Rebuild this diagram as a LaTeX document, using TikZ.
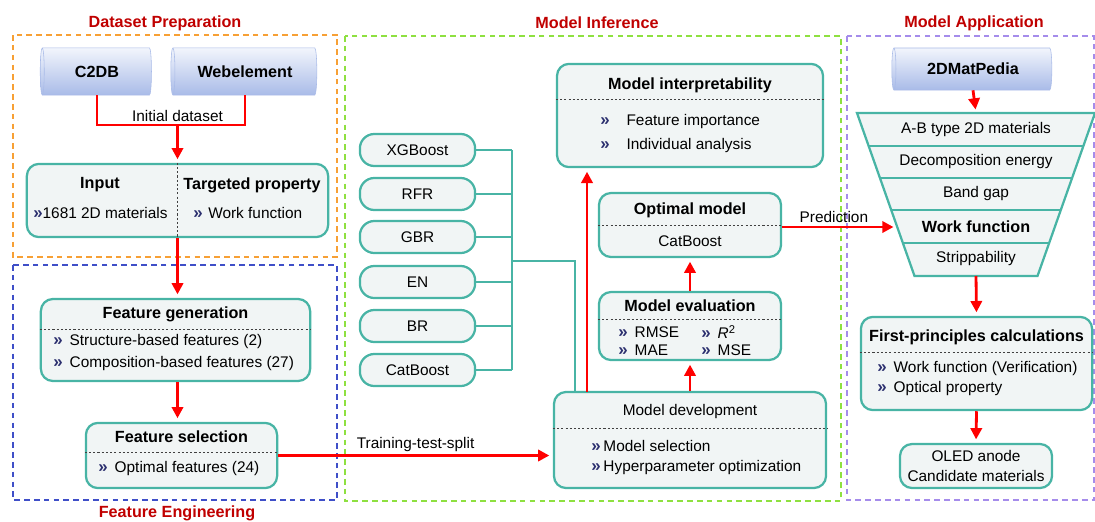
\documentclass[tikz,border=0pt,11pt]{standalone}
\usepackage{fontspec}
\setmainfont{Liberation Sans}
\usepackage{xcolor}
\usetikzlibrary{positioning}
\usetikzlibrary{arrows.meta}
\usetikzlibrary{shapes.geometric}
\usetikzlibrary{calc}

\definecolor{tealc}{HTML}{48B4A5}
\definecolor{boxfill}{HTML}{F1F5F5}
\definecolor{titred}{HTML}{C00000}
\definecolor{bulc}{HTML}{2B2F6E}
\definecolor{cyltop}{HTML}{F2F5FC}
\definecolor{cylbot}{HTML}{A9BBE8}
\definecolor{frmorange}{HTML}{F7A035}
\definecolor{frmblue}{HTML}{3F4FC8}
\definecolor{frmgreen}{HTML}{8EE040}
\definecolor{frmpurple}{HTML}{A58CEB}

\newcommand{\bul}{\textcolor{bulc}{\fontsize{12}{12}\selectfont\bfseries »}}

\begin{document}
\begin{tikzpicture}[
    x=0.025cm, y=-0.025cm,
    %% ── Node styles ─────────────────────────────────────────────
    dbase/.style ={cylinder, shape border rotate=180, shape aspect=0.35,
                   draw=cylbot, line width=0.4pt, top color=cyltop, bottom color=cylbot,
                   inner sep=0pt, font=\fontsize{11.5}{13}\selectfont\bfseries},
    box/.style   ={draw=tealc, line width=1.6pt, rounded corners=0.3cm,
                   fill=boxfill, inner sep=0pt},
    mbox/.style  ={draw=tealc, line width=1.6pt, rounded corners=0.36cm,
                   fill=boxfill, minimum width=2.88cm, minimum height=0.8cm},
    ttl/.style   ={inner sep=0pt, font=\fontsize{11.5}{13}\selectfont\bfseries},
    item/.style  ={anchor=west, inner sep=0pt},
    lbl/.style   ={inner sep=1pt, text=black},
    grptitle/.style={inner sep=0pt, text=titred, font=\fontsize{11.5}{14}\selectfont\bfseries},
    grporange/.style={draw=frmorange, line width=1.3pt, dash pattern=on 4pt off 3pt},
    grpblue/.style  ={draw=frmblue,   line width=1.3pt, dash pattern=on 4pt off 3pt},
    grpgreen/.style ={draw=frmgreen,  line width=1.3pt, dash pattern=on 4pt off 3pt},
    grppurple/.style={draw=frmpurple, line width=1.3pt, dash pattern=on 4pt off 3pt},
    sep/.style   ={black!75, line width=0.6pt, dash pattern=on 1.5pt off 1.5pt},
    tline/.style ={draw=tealc, line width=1.6pt},
    rline/.style ={red, line width=2pt},
    arr/.style   ={red, line width=2pt, -{Triangle[length=8pt, width=8pt]}, shorten >=2.5pt}
]
    \useasboundingbox (0,0) rectangle (1095,521);

    %% ── Group frames ────────────────────────────────────────────
    \draw[grporange] (13,35)  rectangle (337,257);
    \draw[grpblue]   (13,265) rectangle (337,500);
    \draw[grpgreen]  (345,36) rectangle (841,501);
    \draw[grppurple] (847,36) rectangle (1094,500);

    \node[grptitle] (tprep) at (165,23)  {Dataset Preparation};
    \node[grptitle] (teng)  at (177,513) {Feature Engineering};
    \node[grptitle] (tinf)  at (597,23)  {Model Inference};
    \node[grptitle] (tapp)  at (974,23)  {Model Application};

    %% ── Dataset preparation ─────────────────────────────────────
    \node[dbase, minimum height=2.78cm, minimum width=1.18cm] (c2db)  at (97,71.5)  {C2DB};
    \node[dbase, minimum height=3.65cm, minimum width=1.18cm] (webel) at (245,71.5) {Webelement};

    \node[box, minimum width=7.53cm, minimum height=1.83cm] (inbox) at (177.5,200.5) {};
    \draw[sep] (inbox.north) -- (inbox.south);
    \node[ttl]  (inT)  at (100,185) {Input};
    \node[ttl]  (tgT)  at (252,185) {Targeted property};
    \node[item] (inI)  at (33,213)  {\bul1681 2D materials};
    \node[item] (tgI)  at (193,213) {\bul\hspace{4pt}Work function};

    %% ── Feature engineering ─────────────────────────────────────
    \node[box, minimum width=6.73cm, minimum height=2.05cm] (featgen) at (175.5,340) {};
    \node[ttl]  (fgT) at (175.5,314) {Feature generation};
    \draw[sep] (featgen.west |- 0,329) -- (featgen.east |- 0,329);
    \node[item] (fg1) at (53,342) {\bul\hspace{5pt}Structure-based features (2)};
    \node[item] (fg2) at (53,364) {\bul\hspace{5pt}Composition-based features (27)};

    \node[box, minimum width=4.78cm, minimum height=1.63cm] (featsel) at (181.5,455.5) {};
    \node[ttl]  (fsT) at (181.5,437) {Feature selection};
    \draw[sep] (featsel.west |- 0,452) -- (featsel.east |- 0,452);
    \node[item] (fs1) at (98,469) {\bul\hspace{5pt}Optimal features (24)};

    %% ── Model inference ─────────────────────────────────────────
    \foreach \nm/\lb/\yy in {xgb/XGBoost/150, rfr/RFR/194, gbr/GBR/237,
                             en/EN/282, br/BR/326, cat/CatBoost/370}
        \node[mbox] (\nm) at (417.5,\yy) {\lb};

    \node[box, minimum width=6.65cm, minimum height=2.58cm] (interp) at (690,115.5) {};
    \node[ttl]  (ipT) at (690,85) {Model interpretability};
    \draw[sep] (interp.west |- 0,99) -- (interp.east |- 0,99);
    \node[item] (ip1) at (600,122) {\bul\hspace{12pt}Feature importance};
    \node[item] (ip2) at (600,146) {\bul\hspace{12pt}Individual analysis};

    \node[box, minimum width=4.55cm, minimum height=1.6cm] (optimal) at (690,225) {};
    \node[ttl]  (omT) at (690,210) {Optimal model};
    \draw[sep] (optimal.west |- 0,225) -- (optimal.east |- 0,225);
    \node[inner sep=0pt] (omI) at (690,241) {CatBoost};

    \node[box, minimum width=4.55cm, minimum height=1.7cm] (modeleval) at (690,326) {};
    \node[ttl]  (meT) at (690,306) {Model evaluation};
    \draw[sep] (modeleval.west |- 0,319) -- (modeleval.east |- 0,319);
    \node[item] (me1) at (618,332) {\bul\hspace{5pt}RMSE};
    \node[item] (me2) at (701,332) {\bul\hspace{5pt}\textit{R}\textsuperscript{2}};
    \node[item] (me3) at (618,350) {\bul\hspace{5pt}MAE};
    \node[item] (me4) at (701,350) {\bul\hspace{5pt}MSE};

    \node[box, minimum width=6.8cm, minimum height=2.4cm] (modeldev) at (690,440) {};
    \node[inner sep=0pt] (mdT) at (690,412) {Model development};
    \draw[sep] (modeldev.west |- 0,428) -- (modeldev.east |- 0,428);
    \node[item] (md1) at (591,446) {\bul\hspace{2pt}Model selection};
    \node[item] (md2) at (591,468) {\bul\hspace{2pt}Hyperparameter optimization};

    %% ── Model application ───────────────────────────────────────
    \node[dbase, minimum height=4.0cm, minimum width=1.05cm] (matped) at (973,69) {2DMatPedia};

    \draw[tline, fill=boxfill] (857,113) -- (1095,113) -- (1037.5,276) -- (914.5,276) -- cycle;
    \foreach \yy in {146,178,210,243} {
        \pgfmathsetmacro\hw{119-0.3528*(\yy-113)}
        \draw[tline] (976-\hw,\yy) -- (976+\hw,\yy);
    }
    \node (band1) at (976,130) {A-B type 2D materials};
    \node (band2) at (976,162) {Decomposition energy};
    \node (band3) at (976,194) {Band gap};
    \node[font=\fontsize{11.5}{13}\selectfont\bfseries] (band4) at (976,227) {Work function};
    \node (band5) at (976,259) {Strippability};

    \node[box, minimum width=5.78cm, minimum height=2.33cm] (fpc) at (976.5,363.5) {};
    \node[ttl]  (fpT) at (976.5,337) {First-principles calculations};
    \draw[sep] (fpc.west |- 0,352) -- (fpc.east |- 0,352);
    \node[item] (fp1) at (877,369) {\bul\hspace{5pt}Work function (Verification)};
    \node[item] (fp2) at (877,389) {\bul\hspace{5pt}Optical property};

    \node[box, minimum width=3.8cm, minimum height=1.1cm, align=center] (oled) at (976,466)
        {OLED anode\\[1pt]Candidate materials};

    %% ── Helper points ───────────────────────────────────────────
    \coordinate (join)   at (177.5,125);
    \coordinate (bus)    at (512,150);
    \coordinate (busmid) at (512,261);
    \coordinate (devtap) at (575,392);
    \coordinate (tapI)   at (587,392);
    \coordinate (predin) at (897,227);
    \coordinate (fnltop) at (976,113);
    \coordinate (fnlbot) at (976,276);

    %% ── Connectors ──────────────────────────────────────────────
    \draw[rline] (c2db.south) |- (join) -| (webel.south);
    \node[lbl, above=1pt] (initlbl) at (join) {Initial dataset};
    \draw[arr] (join) -- (inbox.north);
    \draw[arr] (inbox.south) -- (inbox.south |- featgen.north);
    \draw[arr] (inbox.south |- featgen.south) -- (inbox.south |- featsel.north);
    \draw[arr] (featsel.east) -- (featsel.east -| modeldev.west)
        node[lbl, midway, above=1pt] (tts) {Training-test-split};

    \foreach \m in {xgb,rfr,gbr,en,br,cat}
        \draw[tline] (\m.east) -- (\m.east -| bus);
    \draw[tline] (xgb.east -| bus) -- (cat.east -| bus);
    \draw[tline] (busmid) -| (devtap);

    \draw[arr] (tapI) -- (tapI |- interp.south);
    \draw[arr] (modeldev.north) -- (modeleval.south);
    \draw[arr] (modeleval.north) -- (optimal.south);
    \draw[arr] (optimal.east |- predin) -- (predin)
        node[lbl, pos=0.45, above=1pt] (pred) {Prediction};

    \draw[arr] (matped.south) -- (fnltop);
    \draw[arr] (fnlbot) -- (fpc.north);
    \draw[arr] (fpc.south) -- (oled.north);

\end{tikzpicture}
\end{document}
